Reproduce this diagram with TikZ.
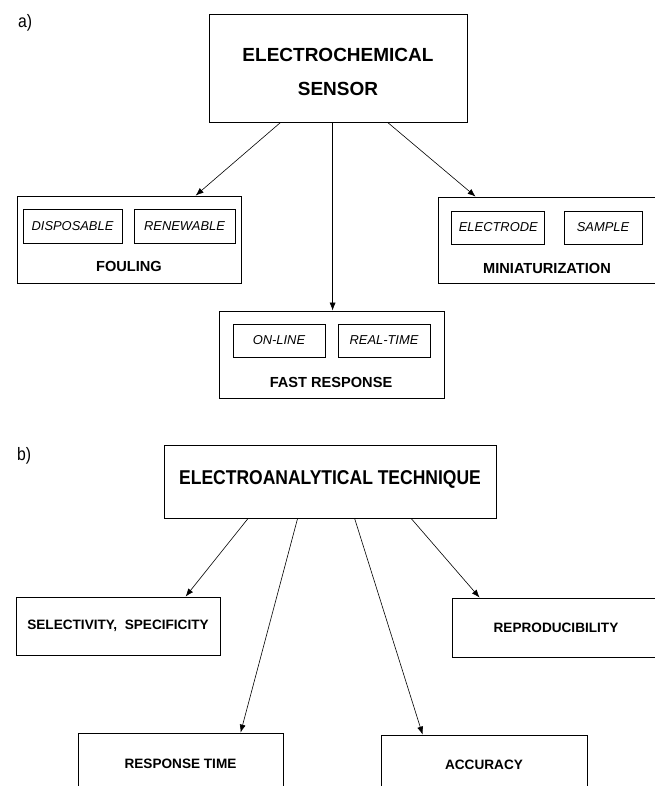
\documentclass[tikz,border=0pt]{standalone}
\usepackage{fontspec}
\setmainfont{Liberation Sans}
\newfontfamily\narrowsans[FakeStretch=0.875]{Liberation Sans}
\usetikzlibrary{arrows.meta}
\begin{document}
\begin{tikzpicture}[x=1pt,y=-1pt,
  box/.style={draw, line width=0.8pt, rectangle, inner sep=0pt},
  arr/.style={draw, line width=0.6pt, -{Latex[length=8pt,width=6pt]}},
  bigtxt/.style={font=\bfseries\fontsize{19}{34}\selectfont, align=center},
  techtxt/.style={font=\narrowsans\bfseries\fontsize{20}{24}\selectfont},
  cattxt/.style={font=\bfseries\fontsize{14.6}{17}\selectfont, inner sep=0pt},
  itemtxt/.style={font=\itshape\fontsize{12.9}{15}\selectfont},
  bottxt/.style={font=\bfseries\fontsize{13.6}{16}\selectfont},
  lbl/.style={font=\narrowsans\fontsize{18}{20}\selectfont, anchor=west, inner sep=0pt}
]
\useasboundingbox (0,0) rectangle (655,786);

% ---------- a) ----------
\node[lbl] (la) at (18,23) {a)};
\node[box, minimum width=258pt, minimum height=108pt] (ecs) at (338,68) {};
\node[bigtxt] (ecstxt) at (338,72) {ELECTROCHEMICAL\\SENSOR};

% Fouling
\node[box, minimum width=224pt, minimum height=87pt] (fouling) at (129,239.5) {};
\node[box, minimum width=99pt, minimum height=34pt, itemtxt] (disp) at (72.5,226) {DISPOSABLE};
\node[box, minimum width=101pt, minimum height=34pt, itemtxt] (renew) at (184.5,226) {RENEWABLE};
\node[cattxt] (foultxt) at (129,266) {FOULING};

% Miniaturization
\node[box, minimum width=220pt, minimum height=86pt] (mini) at (548,240) {};
\node[box, minimum width=93pt, minimum height=33pt, itemtxt] (electrode) at (498.3,227.5) {ELECTRODE};
\node[box, minimum width=78pt, minimum height=33pt, itemtxt] (sample) at (603,227.5) {SAMPLE};
\node[cattxt] (minitxt) at (547,268) {MINIATURIZATION};

% Fast response
\node[box, minimum width=225pt, minimum height=87pt] (fast) at (331.5,354.5) {};
\node[box, minimum width=92pt, minimum height=33pt, itemtxt] (online) at (279,340.5) {ON-LINE};
\node[box, minimum width=92pt, minimum height=33pt, itemtxt] (realtime) at (384,340.5) {REAL-TIME};
\node[cattxt] (fasttxt) at (331,382) {FAST RESPONSE};

\draw[arr] ([xshift=72pt]ecs.south west) -- ([xshift=179pt]fouling.north west);
\draw[arr] ([xshift=124pt]ecs.south west) -- ([xshift=114pt]fast.north west);
\draw[arr] ([xshift=179pt]ecs.south west) -- ([xshift=38pt]mini.north west);

% ---------- b) ----------
\node[lbl] (lb) at (17,456) {b)};
\node[box, minimum width=332pt, minimum height=73pt] (tech) at (330,481.5) {};
\node[techtxt] (techtxt) at (330,479) {ELECTROANALYTICAL TECHNIQUE};

\node[box, minimum width=204pt, minimum height=58pt, bottxt] (sel) at (118,626) {SELECTIVITY,\ \ SPECIFICITY};
\node[box, minimum width=208pt, minimum height=59pt, bottxt] (rep) at (556,627.5) {REPRODUCIBILITY};
\node[box, minimum width=205pt, minimum height=62pt, bottxt] (resp) at (180.5,764) {RESPONSE TIME};
\node[box, minimum width=206pt, minimum height=60pt, bottxt] (acc) at (484,765) {ACCURACY};

\draw[arr] ([xshift=84.5pt]tech.south west) -- ([xshift=170pt]sel.north west);
\draw[arr] ([xshift=134pt]tech.south west) -- ([xshift=163pt]resp.north west);
\draw[arr] ([xshift=191pt]tech.south west) -- ([xshift=42pt]acc.north west);
\draw[arr] ([xshift=247.5pt]tech.south west) -- ([xshift=28pt]rep.north west);
\end{tikzpicture}
\end{document}
